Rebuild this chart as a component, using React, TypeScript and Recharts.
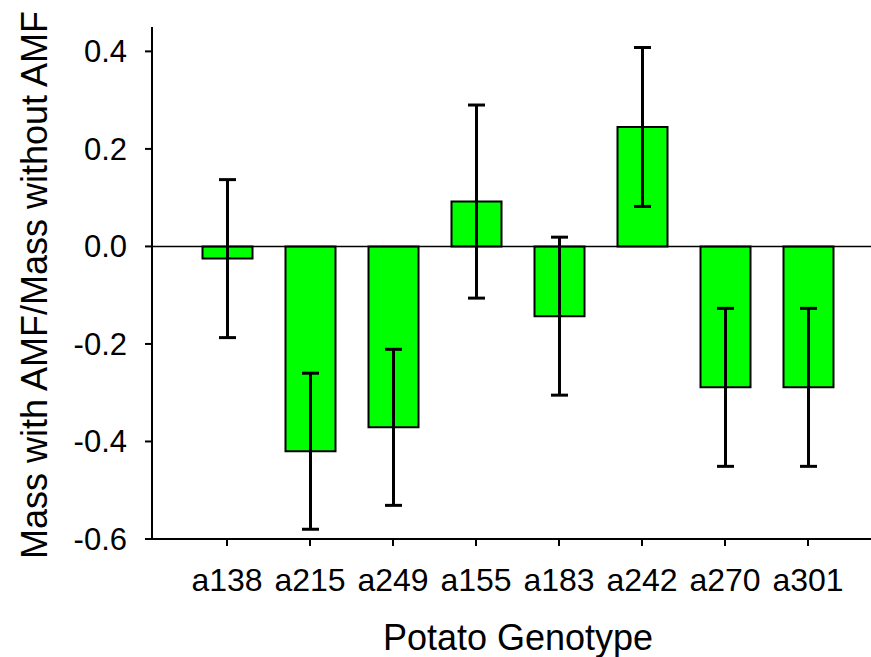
import React from "react";
import {
  BarChart,
  Bar,
  XAxis,
  YAxis,
  ErrorBar,
  ReferenceLine,
  Label,
} from "recharts";

const genotypes = ["a138", "a215", "a249", "a155", "a183", "a242", "a270", "a301"];
const ratios = [-0.025, -0.42, -0.371, 0.092, -0.143, 0.245, -0.289, -0.289];
const errors = [0.162, 0.16, 0.16, 0.198, 0.162, 0.163, 0.162, 0.162];
const yTicks = [-0.6, -0.4, -0.2, 0.0, 0.2, 0.4];

const data = genotypes.map((name, i) => ({
  name,
  ratio: ratios[i],
  err: errors[i],
}));

const font = "'Liberation Sans', Arial, sans-serif";

const App = () => {
  return (
    <div
      style={{
        position: "absolute",
        left: 0,
        top: 0,
        width: 871,
        height: 657,
        overflow: "hidden",
        background: "#fff",
      }}
    >
      <BarChart
        width={900}
        height={657}
        data={data}
        margin={{ top: 27, right: 17, left: 0, bottom: 0 }}
        barSize={50}
      >
        <XAxis
          dataKey="name"
          height={118}
          padding={{ left: 33.5, right: 33.5 }}
          axisLine={{ stroke: "#000", strokeWidth: 2 }}
          tickLine={{ stroke: "#000", strokeWidth: 2 }}
          tickSize={7}
          tickMargin={22}
          tick={{ fill: "#000", fontSize: 32, fontFamily: font }}
          interval={0}
        >
          <Label
            content={() => (
              <text
                x={518}
                y={650}
                textAnchor="middle"
                fontSize={36}
                fontFamily={font}
                fill="#000"
              >
                Potato Genotype
              </text>
            )}
          />
        </XAxis>
        <XAxis
          xAxisId="top"
          orientation="top"
          dataKey="name"
          height={0}
          tick={false}
          tickLine={false}
          axisLine={{ stroke: "#000", strokeWidth: 2 }}
        />
        <YAxis
          width={152}
          domain={[-0.6, 0.45]}
          ticks={yTicks}
          allowDataOverflow
          axisLine={{ stroke: "#000", strokeWidth: 2 }}
          tickLine={{ stroke: "#000", strokeWidth: 2 }}
          tickSize={7}
          tickMargin={18}
          tickFormatter={(v: number) => v.toFixed(1)}
          tick={{ fill: "#000", fontSize: 31, fontFamily: font }}
        >
          <Label
            content={() => (
              <text
                x={47}
                y={285}
                textAnchor="middle"
                fontSize={36}
                fontFamily={font}
                fill="#000"
                transform="rotate(-90, 47, 285)"
              >
                Mass with AMF/Mass without AMF
              </text>
            )}
          />
        </YAxis>
        <ReferenceLine y={0} stroke="#000" strokeWidth={1.5} />
        <Bar
          dataKey="ratio"
          fill="#00ff00"
          stroke="#000"
          strokeWidth={2}
          isAnimationActive={false}
        >
          <ErrorBar
            dataKey="err"
            width={8.5}
            stroke="#000"
            strokeWidth={3}
            direction="y"
          />
        </Bar>
      </BarChart>
    </div>
  );
};

export default App;
